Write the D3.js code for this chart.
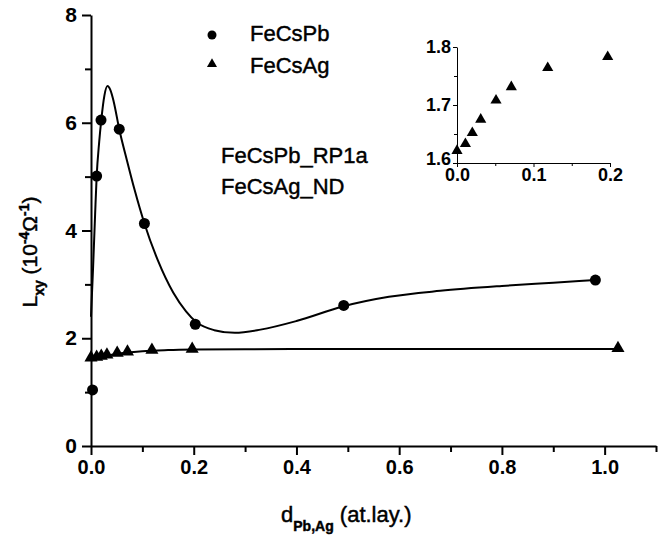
<!DOCTYPE html>
<html>
<head>
<meta charset="utf-8">
<script src="https://cdn.jsdelivr.net/npm/d3@7"></script>
<style>
  html, body { margin: 0; padding: 0; background: #fff; }
  svg { display: block; }
  text { font-family: "Liberation Sans", Arial, sans-serif; fill: #000; }
  .heavy { stroke: #000; stroke-width: 0.45px; }
</style>
</head>
<body>
<svg id="chart" width="665" height="537"></svg>
<script>
// FeCsPb measurements (thickness in at. layers, Lxy in 1e-4 / Ohm)
const pbX = [0.003, 0.011, 0.0195, 0.055, 0.104, 0.203, 0.492, 0.982];
const pbY = [1.04, 5.01, 6.05, 5.88, 4.13, 2.26, 2.61, 3.08];

// FeCsAg measurements
const agX = [0.0, 0.011, 0.020, 0.031, 0.051, 0.071, 0.1186, 0.197, 1.026];
const agY = [1.621, 1.633, 1.652, 1.675, 1.708, 1.731, 1.764, 1.783, 1.795];

// guide curves drawn through the data
const pbFitX = [0, 0.004, 0.008, 0.011, 0.016, 0.02, 0.026, 0.032, 0.038, 0.044, 0.055, 0.07, 0.085, 0.104, 0.13, 0.16, 0.185, 0.205, 0.24, 0.28, 0.33, 0.4, 0.49, 0.58, 0.68, 0.8, 0.9, 0.982];
const pbFitY = [2.4, 3.3, 4.3, 5.0, 5.65, 6.05, 6.5, 6.68, 6.6, 6.4, 5.88, 5.3, 4.75, 4.13, 3.45, 2.85, 2.5, 2.3, 2.15, 2.10, 2.16, 2.32, 2.59, 2.77, 2.88, 2.97, 3.03, 3.08];
const agFitX = [0, 0.005, 0.01, 0.02, 0.03, 0.05, 0.07, 0.1, 0.15, 0.2, 0.3, 0.5, 1.026];
const agFitY = [1.58, 1.61, 1.63, 1.655, 1.675, 1.71, 1.735, 1.76, 1.78, 1.79, 1.797, 1.8, 1.8];

// axis ticks
const xMajor = [0, 0.2, 0.4, 0.6, 0.8, 1.0];
const xMinor = [0.1, 0.3, 0.5, 0.7, 0.9, 1.1];
const yMajor = [0, 2, 4, 6, 8];
const yMinor = [1, 3, 5, 7];
const inXMajor = [0, 0.1, 0.2];
const inXMinor = [0.05, 0.15];
const inYMajor = [1.6, 1.7, 1.8];
const inYMinor = [1.65, 1.75];

const legendNames = ["FeCsPb", "FeCsAg"];
const noteLines = ["FeCsPb_RP1a", "FeCsAg_ND"];

const svg = d3.select("#chart");
svg.append("rect").attr("width", 665).attr("height", 537).attr("fill", "#fff");

const x = d3.scaleLinear().domain([0, 1.1]).range([91, 656]);
const y = d3.scaleLinear().domain([0, 8]).range([446, 15]);

const fmt1 = d3.format(".1f");

// ---- main axes ----
function styleAxis(g, width) {
  g.selectAll("path.domain").attr("stroke", "#000").attr("stroke-width", width);
  g.selectAll(".tick line").attr("stroke", "#000").attr("stroke-width", width);
}
function styleLabels(g, size) {
  g.selectAll(".tick text").attr("font-size", size).attr("font-weight", "bold")
    .attr("font-family", "Liberation Sans, Arial, sans-serif").attr("fill", "#000");
}

const gx = svg.append("g").attr("transform", `translate(0,${y(0)})`)
  .call(d3.axisBottom(x).tickValues(xMajor).tickFormat(fmt1).tickSize(9).tickSizeOuter(0).tickPadding(5));
styleAxis(gx, 2);
styleLabels(gx, 20);
svg.append("g").attr("transform", `translate(0,${y(0)})`)
  .call(d3.axisBottom(x).tickValues(xMinor).tickFormat("").tickSize(6).tickSizeOuter(0))
  .call(g => { g.select("path.domain").remove(); styleAxis(g, 2); });

const gy = svg.append("g").attr("transform", `translate(${x(0)},0)`)
  .call(d3.axisLeft(y).tickValues(yMajor).tickFormat(d3.format("d")).tickSize(9).tickSizeOuter(0).tickPadding(5));
styleAxis(gy, 2);
styleLabels(gy, 21);
svg.append("g").attr("transform", `translate(${x(0)},0)`)
  .call(d3.axisLeft(y).tickValues(yMinor).tickFormat("").tickSize(6).tickSizeOuter(0))
  .call(g => { g.select("path.domain").remove(); styleAxis(g, 2); });

// ---- guide curves ----
const line = d3.line().x(d => x(d[0])).y(d => y(d[1])).curve(d3.curveMonotoneX);
svg.append("path").datum(d3.zip(pbFitX, pbFitY)).attr("d", line)
  .attr("fill", "none").attr("stroke", "#000").attr("stroke-width", 2);
svg.append("path").datum(d3.zip(agFitX, agFitY)).attr("d", line)
  .attr("fill", "none").attr("stroke", "#000").attr("stroke-width", 2);

// ---- markers ----
svg.append("g").selectAll("circle").data(d3.zip(pbX, pbY)).join("circle")
  .attr("cx", d => x(d[0])).attr("cy", d => y(d[1])).attr("r", 5.5).attr("fill", "#000");

const tri = d3.symbol(d3.symbolTriangle, 74);
svg.append("g").selectAll("path").data(d3.zip(agX, agY)).join("path")
  .attr("d", tri).attr("transform", d => `translate(${x(d[0])},${y(d[1]) - 1})`).attr("fill", "#000");

// ---- legend ----
const leg = svg.append("g");
leg.append("circle").attr("cx", 212).attr("cy", 35).attr("r", 4.5).attr("fill", "#000");
leg.append("path").attr("d", d3.symbol(d3.symbolTriangle, 44))
  .attr("transform", "translate(212,64)").attr("fill", "#000");
leg.selectAll("text").data(legendNames).join("text")
  .attr("class", "heavy")
  .attr("x", 250).attr("y", (d, i) => 41 + i * 32)
  .attr("font-size", 22).text(d => d);

// ---- annotation ----
svg.append("g").selectAll("text").data(noteLines).join("text")
  .attr("class", "heavy")
  .attr("x", 221).attr("y", (d, i) => 163 + i * 31)
  .attr("font-size", 22).text(d => d);

// ---- axis titles ----
const xt = svg.append("text").attr("class", "heavy").attr("x", 281).attr("y", 522).attr("font-size", 22);
xt.append("tspan").text("d");
xt.append("tspan").attr("dy", 9).attr("font-size", 14).attr("font-weight", "bold").text("Pb,Ag");
xt.append("tspan").attr("dy", -9).text(" (at.lay.)");

const yt = svg.append("text").attr("class", "heavy").attr("transform", "translate(37,252) rotate(-90)")
  .attr("text-anchor", "middle").attr("font-size", 21);
yt.append("tspan").text("L");
yt.append("tspan").attr("dy", 7).attr("font-size", 14).attr("font-weight", "bold").text("xy");
yt.append("tspan").attr("dy", -7).text(" (10");
yt.append("tspan").attr("dy", -8).attr("font-size", 14).attr("font-weight", "bold").text("-4");
yt.append("tspan").attr("dy", 8).text("Ω");
yt.append("tspan").attr("dy", -8).attr("font-size", 14).attr("font-weight", "bold").text("-1");
yt.append("tspan").attr("dy", 8).text(")");

// ---- inset: FeCsAg at low coverage ----
const ix = d3.scaleLinear().domain([0, 0.2]).range([457, 610]);
const iy = d3.scaleLinear().domain([1.6, 1.8]).range([163, 47]);

const igx = svg.append("g").attr("transform", `translate(0,${iy(1.6)})`)
  .call(d3.axisBottom(ix).tickValues(inXMajor).tickFormat(fmt1).tickSize(4).tickSizeOuter(0).tickPadding(1));
styleAxis(igx, 1);
styleLabels(igx, 18);
svg.append("g").attr("transform", `translate(0,${iy(1.6)})`)
  .call(d3.axisBottom(ix).tickValues(inXMinor).tickFormat("").tickSize(3).tickSizeOuter(0))
  .call(g => { g.select("path.domain").remove(); styleAxis(g, 1); });

const igy = svg.append("g").attr("transform", `translate(${ix(0)},0)`)
  .call(d3.axisLeft(iy).tickValues(inYMajor).tickFormat(fmt1).tickSize(4).tickSizeOuter(0).tickPadding(2));
styleAxis(igy, 1);
styleLabels(igy, 18);
// lowest inset label sits a touch higher so it clears the x labels
igy.selectAll(".tick").filter(d => d === 1.6).select("text").attr("dy", "0.1em");
svg.append("g").attr("transform", `translate(${ix(0)},0)`)
  .call(d3.axisLeft(iy).tickValues(inYMinor).tickFormat("").tickSize(3).tickSizeOuter(0))
  .call(g => { g.select("path.domain").remove(); styleAxis(g, 1); });

const inset = d3.zip(agX, agY).filter(d => d[0] <= 0.2);
svg.append("g").selectAll("path").data(inset).join("path")
  .attr("d", d3.symbol(d3.symbolTriangle, 54))
  .attr("transform", d => `translate(${ix(d[0])},${iy(d[1])})`).attr("fill", "#000");
</script>
</body>
</html>
